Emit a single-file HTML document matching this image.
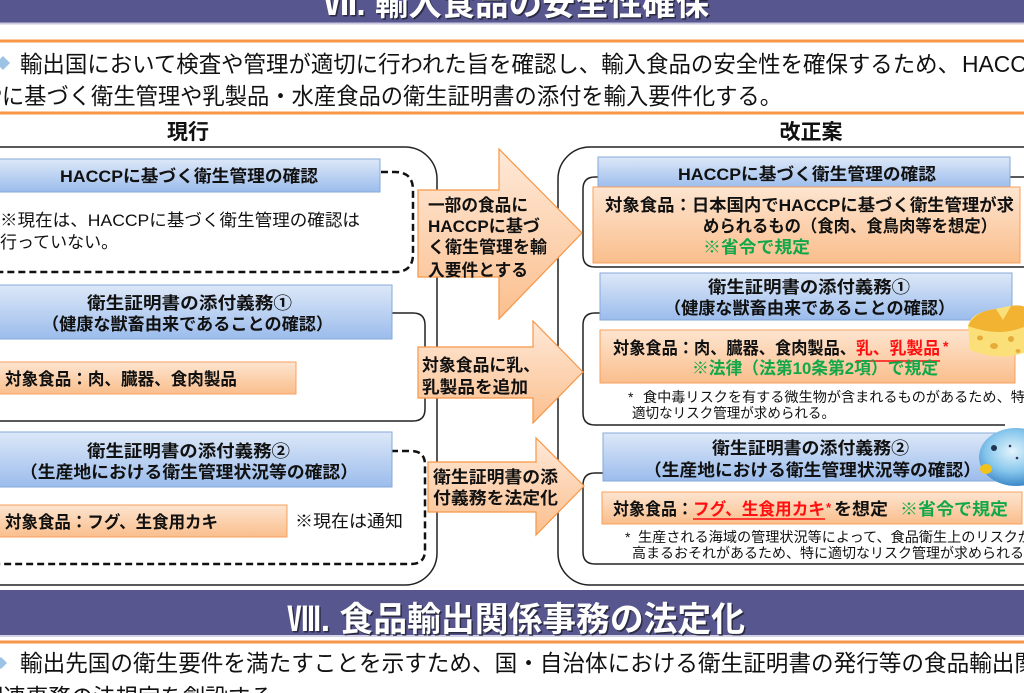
<!DOCTYPE html>
<html><head><meta charset="utf-8">
<style>
html,body{margin:0;padding:0;background:#fff;}
body{width:1024px;height:693px;overflow:hidden;}
svg{display:block;}
text{font-family:"Liberation Sans","Noto Sans CJK JP",sans-serif;fill:#111;}
.b{font-weight:bold;}
.w{fill:#fff;}
.g{fill:#12A84A;}
.r{fill:#FF1010;}
</style></head>
<body>
<svg width="1024" height="693" viewBox="0 0 1024 693" xmlns="http://www.w3.org/2000/svg">
<defs>
<linearGradient id="blue" x1="0" y1="0" x2="0" y2="1">
<stop offset="0" stop-color="#DDE8F8"/><stop offset="1" stop-color="#9BBCEC"/>
</linearGradient>
<linearGradient id="org" x1="0" y1="0" x2="0" y2="1">
<stop offset="0" stop-color="#FDE5D0"/><stop offset="1" stop-color="#FABE8C"/>
</linearGradient>
<linearGradient id="arr" x1="0" y1="0" x2="0" y2="1">
<stop offset="0" stop-color="#FEE9D8"/><stop offset="1" stop-color="#FBBF8E"/>
</linearGradient>
<radialGradient id="fish" cx="0.45" cy="0.4" r="0.65">
<stop offset="0" stop-color="#E2F4FC"/><stop offset="0.55" stop-color="#86C6EC"/><stop offset="1" stop-color="#2E7CC2"/>
</radialGradient>
</defs>
<rect width="1024" height="693" fill="#fff"/>

<!-- header 1 -->
<rect x="0" y="0" width="1024" height="22.5" fill="#57568E"/>
<rect x="0" y="22.5" width="1024" height="2" fill="#C9C8E0"/>
<text x="324.5" y="16.5" font-size="33" class="b" style="fill:#2a2a40" textLength="386" lengthAdjust="spacingAndGlyphs">Ⅶ. 輸入食品の安全性確保</text>
<text x="323" y="15" font-size="33" class="b w" textLength="386" lengthAdjust="spacingAndGlyphs">Ⅶ. 輸入食品の安全性確保</text>
<rect x="0" y="39.5" width="1024" height="3" fill="#F79646"/>

<polygon points="-4,63 3,56 10,63 3,70" fill="#9CC3E6"/>
<text x="20" y="72" font-size="23" textLength="940" lengthAdjust="spacingAndGlyphs">輸出国において検査や管理が適切に行われた旨を確認し、輸入食品の安全性を確保するため、</text>
<text x="962" y="72" font-size="23" textLength="80" lengthAdjust="spacingAndGlyphs">HACCP</text>
<text x="-13" y="104" font-size="23" textLength="795" lengthAdjust="spacingAndGlyphs">Pに基づく衛生管理や乳製品・水産食品の衛生証明書の添付を輸入要件化する。</text>
<rect x="0" y="111.5" width="1024" height="3" fill="#F79646"/>

<text x="188" y="139" font-size="21" class="b" text-anchor="middle">現行</text>
<text x="811" y="139" font-size="21" class="b" text-anchor="middle">改正案</text>

<!-- outer frames -->
<rect x="-60" y="147" width="497" height="438" rx="32" fill="none" stroke="#222" stroke-width="1.5"/>
<rect x="558" y="147" width="520" height="438" rx="32" fill="none" stroke="#222" stroke-width="1.5"/>

<!-- left inner -->
<path d="M370 172 H395 Q413 172 413 190 V254 Q413 272 395 272 H-10" fill="none" stroke="#111" stroke-width="2.5" stroke-dasharray="7 4"/>
<rect x="-10" y="159" width="390" height="33" fill="url(#blue)" stroke="#86A9DA" stroke-width="1"/>
<text x="60" y="182" font-size="17" class="b" textLength="258" lengthAdjust="spacingAndGlyphs">HACCPに基づく衛生管理の確認</text>
<text x="0" y="226" font-size="17" textLength="360" lengthAdjust="spacingAndGlyphs">※現在は、HACCPに基づく衛生管理の確認は</text>
<text x="0" y="248" font-size="17">行っていない。</text>

<path d="M380 313 H413 Q425 313 425 325 V409 Q425 421 413 421 H-10" fill="none" stroke="#222" stroke-width="1.5"/>
<rect x="-10" y="285" width="402" height="54" fill="url(#blue)" stroke="#86A9DA" stroke-width="1"/>
<text x="87" y="309" font-size="17" class="b" textLength="205" lengthAdjust="spacingAndGlyphs">衛生証明書の添付義務①</text>
<text x="42" y="330" font-size="17" class="b" textLength="291" lengthAdjust="spacingAndGlyphs">（健康な獣畜由来であることの確認）</text>
<rect x="-10" y="362" width="306" height="32" fill="url(#org)" stroke="#F8A05C" stroke-width="1"/>
<text x="5" y="385" font-size="17" class="b" textLength="232" lengthAdjust="spacingAndGlyphs">対象食品：肉、臓器、食肉製品</text>

<path d="M380 451 H411 Q425 451 425 465 V550 Q425 564 411 564 H-10" fill="none" stroke="#111" stroke-width="2.5" stroke-dasharray="7 4"/>
<rect x="-10" y="432" width="402" height="55" fill="url(#blue)" stroke="#86A9DA" stroke-width="1"/>
<text x="87" y="457" font-size="17" class="b" textLength="203" lengthAdjust="spacingAndGlyphs">衛生証明書の添付義務②</text>
<text x="20" y="478" font-size="17" class="b" textLength="338" lengthAdjust="spacingAndGlyphs">（生産地における衛生管理状況等の確認）</text>
<rect x="-10" y="505" width="297" height="32" fill="url(#org)" stroke="#F8A05C" stroke-width="1"/>
<text x="5" y="528" font-size="17" class="b" textLength="213" lengthAdjust="spacingAndGlyphs">対象食品：フグ、生食用カキ</text>
<text x="295" y="527" font-size="17" textLength="108" lengthAdjust="spacingAndGlyphs">※現在は通知</text>

<!-- right inner -->
<path d="M1030 177 H595 Q583 177 583 189 V255 Q583 267 595 267 H1030" fill="none" stroke="#222" stroke-width="1.5"/>
<rect x="598" y="157" width="412" height="31" fill="url(#blue)" stroke="#86A9DA" stroke-width="1"/>
<rect x="593" y="187" width="427" height="76" fill="url(#org)" stroke="#F8A05C" stroke-width="1"/>
<text x="678" y="180" font-size="17" class="b" textLength="258" lengthAdjust="spacingAndGlyphs">HACCPに基づく衛生管理の確認</text>
<text x="605" y="211" font-size="17" class="b" textLength="409" lengthAdjust="spacingAndGlyphs">対象食品：日本国内でHACCPに基づく衛生管理が求</text>
<text x="703" y="232" font-size="17" class="b" textLength="294" lengthAdjust="spacingAndGlyphs">められるもの（食肉、食鳥肉等を想定）</text>
<text x="703" y="253" font-size="17" class="b g" textLength="107" lengthAdjust="spacingAndGlyphs">※省令で規定</text>

<path d="M1030 313 H595 Q583 313 583 325 V413 Q583 425 595 425 H1005" fill="none" stroke="#222" stroke-width="1.5"/>
<rect x="600" y="273" width="412" height="47" fill="url(#blue)" stroke="#86A9DA" stroke-width="1"/>
<rect x="600" y="330" width="415" height="53" fill="url(#org)" stroke="#F8A05C" stroke-width="1"/>
<text x="708" y="293" font-size="17" class="b" textLength="202" lengthAdjust="spacingAndGlyphs">衛生証明書の添付義務①</text>
<text x="664" y="314" font-size="17" class="b" textLength="291" lengthAdjust="spacingAndGlyphs">（健康な獣畜由来であることの確認）</text>
<text x="613" y="354" font-size="17" class="b" textLength="243" lengthAdjust="spacingAndGlyphs">対象食品：肉、臓器、食肉製品、</text>
<text x="856" y="354" font-size="17" class="b r" textLength="84" lengthAdjust="spacingAndGlyphs">乳、乳製品</text>
<line x1="856" y1="361" x2="940" y2="361" stroke="#FF1010" stroke-width="1.5"/>
<text x="943" y="351" font-size="14" class="b r">*</text>
<text x="692" y="374" font-size="17" class="b g" textLength="246" lengthAdjust="spacingAndGlyphs">※法律（法第10条第2項）で規定</text>
<text x="628" y="402" font-size="14">*</text>
<text x="643" y="402" font-size="14" textLength="396" lengthAdjust="spacingAndGlyphs">食中毒リスクを有する微生物が含まれるものがあるため、特に</text>
<text x="632" y="418" font-size="14" textLength="203" lengthAdjust="spacingAndGlyphs">適切なリスク管理が求められる。</text>

<path d="M1030 473 H595 Q583 473 583 485 V552 Q583 564 595 564 H1030" fill="none" stroke="#222" stroke-width="1.5"/>
<rect x="603" y="433" width="400" height="48" fill="url(#blue)" stroke="#86A9DA" stroke-width="1"/>
<rect x="602" y="492" width="420" height="32" fill="url(#org)" stroke="#F8A05C" stroke-width="1"/>
<text x="712" y="454" font-size="17" class="b" textLength="197" lengthAdjust="spacingAndGlyphs">衛生証明書の添付義務②</text>
<text x="644" y="476" font-size="17" class="b" textLength="337" lengthAdjust="spacingAndGlyphs">（生産地における衛生管理状況等の確認）</text>
<text x="613" y="515" font-size="17" class="b" textLength="80" lengthAdjust="spacingAndGlyphs">対象食品：</text>
<text x="693" y="515" font-size="17" class="b r" textLength="132" lengthAdjust="spacingAndGlyphs">フグ、生食用カキ</text>
<line x1="693" y1="519" x2="825" y2="519" stroke="#FF1010" stroke-width="1.5"/>
<text x="826" y="512" font-size="13" class="b r">*</text>
<text x="834" y="515" font-size="17" class="b" textLength="54" lengthAdjust="spacingAndGlyphs">を想定</text>
<text x="900" y="515" font-size="17" class="b g" textLength="108" lengthAdjust="spacingAndGlyphs">※省令で規定</text>
<text x="625" y="542" font-size="14">*</text>
<text x="638" y="542" font-size="14" textLength="394" lengthAdjust="spacingAndGlyphs">生産される海域の管理状況等によって、食品衛生上のリスクが</text>
<text x="632" y="558" font-size="14" textLength="406" lengthAdjust="spacingAndGlyphs">高まるおそれがあるため、特に適切なリスク管理が求められる。</text>

<!-- arrows -->
<polygon points="418,190 499,190 499,149 582,233 499,319 499,277 418,277" fill="url(#arr)" stroke="#F79646" stroke-width="1.2"/>
<text x="428" y="211" font-size="17" class="b" textLength="100" lengthAdjust="spacingAndGlyphs">一部の食品に</text>
<text x="428" y="232" font-size="17" class="b" textLength="112" lengthAdjust="spacingAndGlyphs">HACCPに基づ</text>
<text x="428" y="253" font-size="17" class="b" textLength="119" lengthAdjust="spacingAndGlyphs">く衛生管理を輸</text>
<text x="428" y="276" font-size="17" class="b" textLength="100" lengthAdjust="spacingAndGlyphs">入要件とする</text>

<polygon points="418,347 533,347 533,321 583,372 533,423 533,398 418,398" fill="url(#arr)" stroke="#F79646" stroke-width="1.2"/>
<text x="422" y="371" font-size="17" class="b" textLength="118" lengthAdjust="spacingAndGlyphs">対象食品に乳、</text>
<text x="422" y="393" font-size="17" class="b" textLength="106" lengthAdjust="spacingAndGlyphs">乳製品を追加</text>

<polygon points="428,462 536,462 536,438 584,486 536,535 536,512 428,512" fill="url(#arr)" stroke="#F79646" stroke-width="1.2"/>
<text x="433" y="483" font-size="17" class="b" textLength="125" lengthAdjust="spacingAndGlyphs">衛生証明書の添</text>
<text x="433" y="504" font-size="17" class="b" textLength="125" lengthAdjust="spacingAndGlyphs">付義務を法定化</text>

<!-- cheese -->
<g>
<path d="M968 326 Q970 314 990 310 L1010 306 Q1024 305 1026 310 L1026 352 Q1000 362 970 350 Z" fill="#FBE07A"/>
<path d="M968 326 Q975 311 996 309 L1003 320 L1011 306 Q1024 304 1026 309 L1026 326 Q1000 338 968 326 Z" fill="#F2B232"/>
<ellipse cx="980" cy="338" rx="3" ry="2.5" fill="#E5AC3A"/>
<ellipse cx="994" cy="346" rx="4" ry="3" fill="#E5AC3A"/>
<ellipse cx="1011" cy="339" rx="3" ry="3" fill="#E5AC3A"/>
<ellipse cx="1018" cy="351" rx="2.5" ry="2" fill="#E5AC3A"/>
</g>
<!-- fish -->
<g>
<ellipse cx="1016" cy="457" rx="37" ry="29" fill="url(#fish)"/>
<ellipse cx="986" cy="469" rx="6" ry="5" fill="#F2C21C"/>
<circle cx="994" cy="448" r="3" fill="#1d3550"/>
<circle cx="1010" cy="446" r="1.3" fill="#335"/>
<circle cx="1017" cy="458" r="1.3" fill="#335"/>
</g>

<!-- header 2 -->
<rect x="0" y="590" width="1024" height="45" fill="#57568E"/>
<rect x="0" y="635" width="1024" height="2" fill="#D4D3E6"/>
<text x="288.5" y="632.5" font-size="34" class="b" style="fill:#2a2a40" textLength="458" lengthAdjust="spacingAndGlyphs">Ⅷ. 食品輸出関係事務の法定化</text>
<text x="287" y="631" font-size="34" class="b w" textLength="458" lengthAdjust="spacingAndGlyphs">Ⅷ. 食品輸出関係事務の法定化</text>
<rect x="0" y="640.5" width="1024" height="3" fill="#F79646"/>

<polygon points="-5,663 1,657 7,663 1,669" fill="#9CC3E6"/>
<text x="20" y="671" font-size="23" textLength="1017" lengthAdjust="spacingAndGlyphs">輸出先国の衛生要件を満たすことを示すため、国・自治体における衛生証明書の発行等の食品輸出関</text>
<text x="-19" y="705" font-size="23" textLength="314" lengthAdjust="spacingAndGlyphs">関連事務の法規定を創設する。</text>
</svg>
</body></html>
